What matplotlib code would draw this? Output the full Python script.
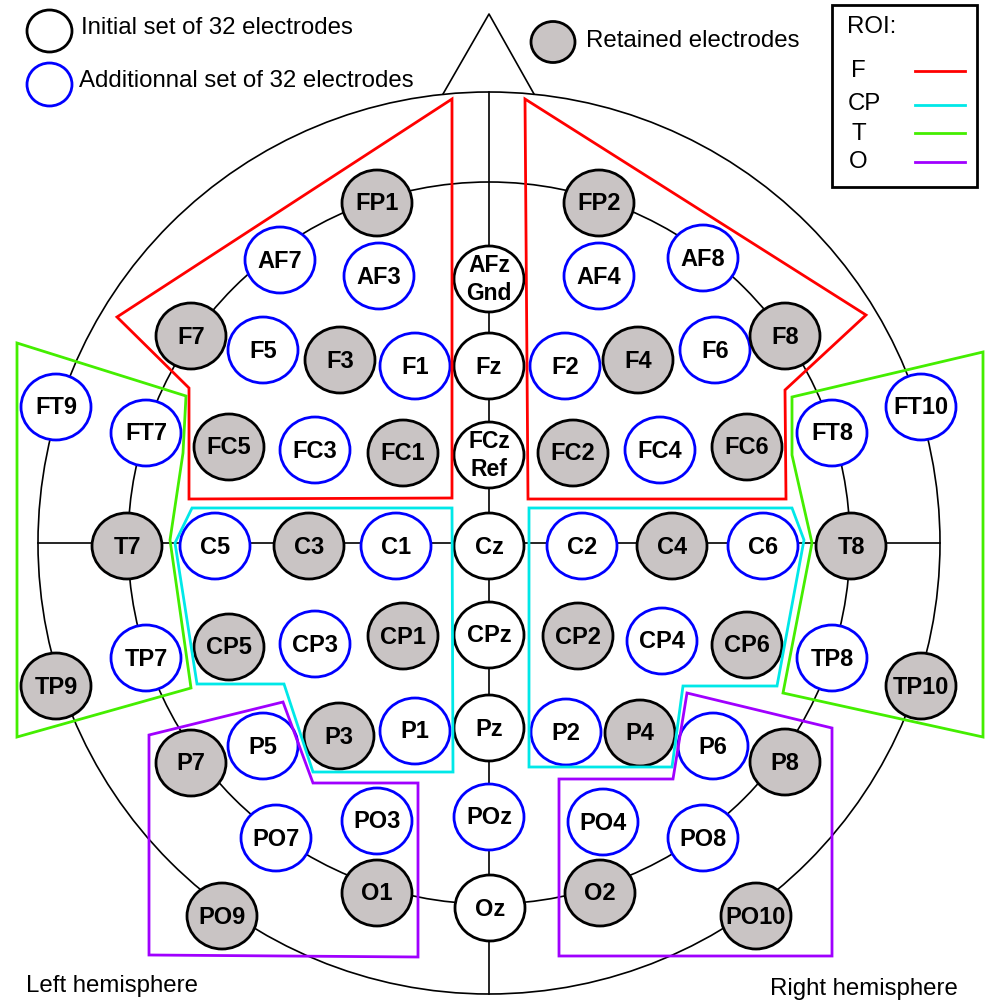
import matplotlib.pyplot as plt
from matplotlib.patches import Ellipse, Circle, Polygon

plt.rcParams['font.family'] = ['Liberation Sans', 'DejaVu Sans']

# electrode layout (pixel coordinates of the schematic)
names = ["FP1", "FP2", "AF7", "AF3", "AFz\nGnd", "AF4", "AF8",
         "F7", "F5", "F3", "F1", "Fz", "F2", "F4", "F6", "F8",
         "FT9", "FT7", "FC5", "FC3", "FC1", "FCz\nRef", "FC2", "FC4", "FC6", "FT8", "FT10",
         "T7", "C5", "C3", "C1", "Cz", "C2", "C4", "C6", "T8",
         "TP9", "TP7", "CP5", "CP3", "CP1", "CPz", "CP2", "CP4", "CP6", "TP8", "TP10",
         "P7", "P5", "P3", "P1", "Pz", "P2", "P4", "P6", "P8",
         "PO7", "PO3", "POz", "PO4", "PO8", "PO9", "O1", "Oz", "O2", "PO10"]
xs = [377, 599, 280, 379, 489, 599, 703,
      191, 263, 340, 415, 489, 565, 638, 715, 785,
      56, 146, 229, 315, 403, 489, 573, 660, 747, 832, 921,
      127, 215, 309, 396, 489, 582, 672, 763, 851,
      56, 146, 229, 315, 403, 489, 578, 662, 747, 832, 921,
      191, 263, 339, 415, 489, 566, 640, 713, 785,
      276, 377, 489, 603, 703, 222, 377, 490, 600, 756]
ys = [203, 203, 260, 276, 279, 276, 258,
      336, 350, 360, 366, 366, 366, 360, 350, 336,
      407, 433, 447, 450, 453, 455, 453, 450, 447, 433, 407,
      546, 546, 546, 546, 546, 546, 546, 546, 546,
      686, 658, 647, 644, 636, 635, 636, 641, 645, 658, 686,
      763, 746, 736, 731, 728, 732, 733, 746, 762,
      838, 821, 817, 822, 838, 916, 893, 908, 893, 916]

initial = ["AFz\nGnd", "Fz", "FCz\nRef", "Cz", "CPz", "Pz", "Oz"]
retained = ["FP1", "FP2", "F7", "F3", "F4", "F8", "FC5", "FC1", "FC2", "FC6",
            "T7", "C3", "C4", "T8", "TP9", "CP5", "CP1", "CP2", "CP6", "TP10",
            "P7", "P3", "P4", "P8", "PO9", "O1", "O2", "PO10"]

# regions of interest
roi_labels = ["F", "CP", "T", "O"]
roi_colors = ["#ff0000", "#00e8e8", "#44ee00", "#a000ff"]
roi_polys = {
    "F": [[(452, 99), (452, 498), (189, 499), (189, 388), (117, 317)],
          [(525, 99), (528, 499), (786, 499), (785, 390), (866, 315)]],
    "CP": [[(192, 508), (452, 508), (453, 772), (313, 772), (284, 684), (197, 684), (175, 543)],
           [(529, 508), (792, 508), (804, 540), (777, 686), (683, 686), (672, 767), (529, 767)]],
    "T": [[(17, 343), (186, 396), (183, 453), (170, 540), (191, 688), (17, 737)],
          [(983, 352), (792, 397), (792, 455), (812, 543), (783, 693), (983, 737)]],
    "O": [[(149, 735), (283, 702), (313, 783), (418, 783), (418, 957), (149, 955)],
          [(687, 693), (832, 728), (832, 956), (559, 956), (559, 779), (673, 779)]],
}

cx, cy = 489, 543
r_outer, r_inner = 451, 361
gray = "#c9c4c4"
fs = 17.3

fig = plt.figure(figsize=(9.87, 10), dpi=100)
ax = fig.add_axes([0, 0, 1, 1])
ax.set_xlim(0, 987)
ax.set_ylim(1000, 0)
ax.set_aspect('equal')
ax.axis('off')

# head outline, nose and guide lines
ax.add_patch(Circle((cx, cy), r_outer, fill=False, ec='black', lw=1.2, zorder=1))
ax.add_patch(Circle((cx, cy), r_inner, fill=False, ec='black', lw=1.2, zorder=1))
ax.plot([443, 489, 534], [94, 14, 94], color='black', lw=1.2, zorder=1)
ax.plot([cx, cx], [cy - r_outer, cy + r_outer], color='black', lw=1.2, zorder=1)
ax.plot([cx - r_outer, cx + r_outer], [cy, cy], color='black', lw=1.2, zorder=1)

# electrodes
for name, x, y in zip(names, xs, ys):
    if name in retained:
        fc, ec = gray, 'black'
    elif name in initial:
        fc, ec = 'white', 'black'
    else:
        fc, ec = 'white', '#0000ff'
    ax.add_patch(Ellipse((x, y), 70, 66, fc=fc, ec=ec, lw=2, zorder=2))
    if "\n" in name:
        top, bottom = name.split("\n")
        ax.text(x, y - 13, top, ha='center', va='center', fontsize=16.5, fontweight='bold', zorder=3)
        ax.text(x, y + 15, bottom, ha='center', va='center', fontsize=16.5, fontweight='bold', zorder=3)
    else:
        ax.text(x, y + 1, name, ha='center', va='center', fontsize=17, fontweight='bold', zorder=3)

# ROI outlines
for lab, col in zip(roi_labels, roi_colors):
    for pts in roi_polys[lab]:
        ax.add_patch(Polygon(pts, closed=True, fill=False, ec=col, lw=2, zorder=4))

# legend of electrode sets
ax.add_patch(Ellipse((49.5, 31), 45, 42, fc='white', ec='black', lw=2))
ax.text(81, 34, "Initial set of 32 electrodes", fontsize=fs, va='baseline')
ax.add_patch(Ellipse((49.5, 84.5), 45, 43, fc='white', ec='#0000ff', lw=2))
ax.text(79, 87, "Additionnal set of 32 electrodes", fontsize=fs, va='baseline')
ax.add_patch(Ellipse((553, 42), 44, 41, fc=gray, ec='black', lw=2))
ax.text(586, 47, "Retained electrodes", fontsize=fs, va='baseline')

# ROI legend box
ax.add_patch(Polygon([(832, 5), (977, 5), (977, 187), (832, 187)], closed=True,
                     fill=False, ec='black', lw=2, zorder=5))
ax.text(847, 33, "ROI:", fontsize=fs, va='baseline')
roi_text_x = [851, 848, 852, 849]
roi_text_y = [77, 110, 140, 168]
roi_line_y = [71, 105, 133, 162]
for lab, col, tx, ty, ly in zip(roi_labels, roi_colors, roi_text_x, roi_text_y, roi_line_y):
    ax.text(tx, ty, lab, fontsize=fs, va='baseline')
    ax.plot([915, 965], [ly, ly], color=col, lw=2)

ax.text(26, 992, "Left hemisphere", fontsize=fs, va='baseline')
ax.text(770, 995, "Right hemisphere", fontsize=fs, va='baseline')

fig.savefig("out.png", dpi=100)
